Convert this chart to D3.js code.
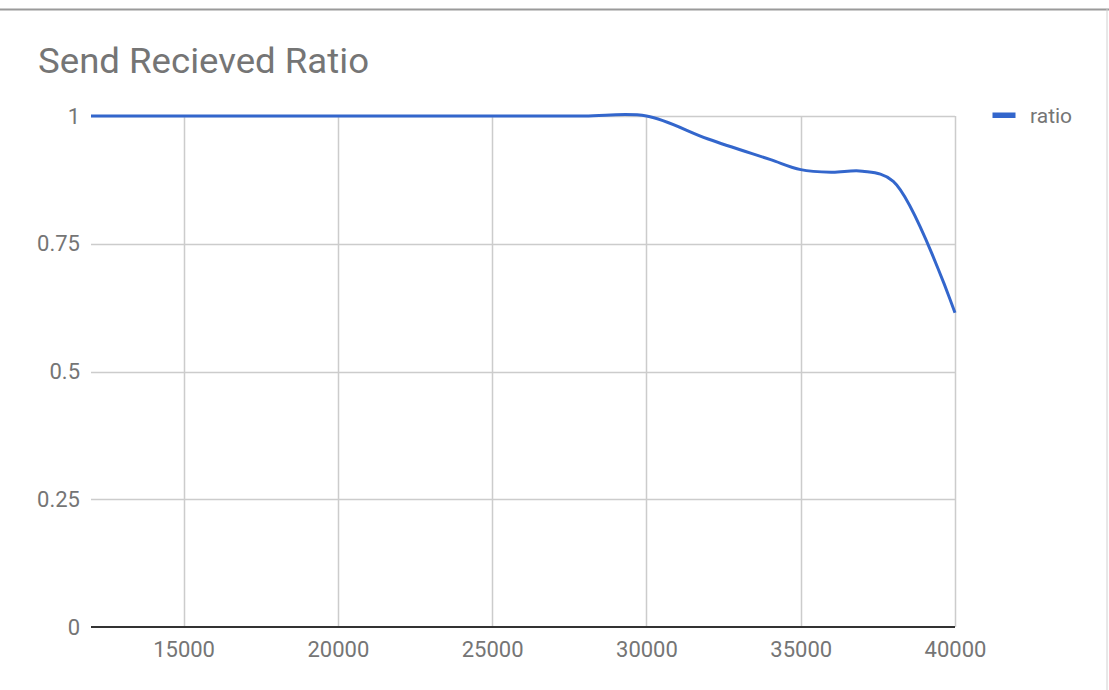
<!DOCTYPE html>
<html><head><meta charset="utf-8">
<script src="https://cdn.jsdelivr.net/npm/d3@7"></script>
<style>body{margin:0;background:#fff;}svg{display:block;font-family:Roboto,"Noto Sans",sans-serif;}</style>
</head><body>
<svg id="c" width="1109" height="690"></svg>
<script>
const title = "Send Recieved Ratio";
const seriesName = "ratio";
const xValues = [12000,14000,16000,18000,20000,22000,24000,26000,28000,30000,32000,34000,35000,36000,37000,38000,40000];
const ratio =   [1,1,1,1,1,1,1,1,1,1,0.955,0.915,0.895,0.89,0.892,0.872,0.615];
const xTicks = [15000,20000,25000,30000,35000,40000];
const yTicks = [0,0.25,0.5,0.75,1];

(function(){
const svg = d3.select("#c");
const mL = 91, mR = 955, mT = 116, mB = 627;
const x = d3.scaleLinear().domain([12000,40000]).range([mL,mR]);
const y = d3.scaleLinear().domain([0,1]).range([mB,mT]);
const font = "Roboto,'Noto Sans',sans-serif";

// frame lines
svg.append("line").attr("x1",0).attr("x2",1109).attr("y1",9.5).attr("y2",9.5).attr("stroke","#9a9a9a").attr("stroke-width",2);
svg.append("line").attr("x1",1107).attr("x2",1107).attr("y1",9).attr("y2",690).attr("stroke","#d0d0d0").attr("stroke-width",1);

svg.append("text").attr("x",38).attr("y",73).attr("font-size",35)
  .attr("textLength",331).attr("lengthAdjust","spacingAndGlyphs")
  .attr("fill","#757575").text(title);

// grid
svg.append("g").selectAll("line").data(yTicks.filter(d=>d>0)).join("line")
  .attr("x1",mL).attr("x2",mR).attr("y1",d=>Math.round(y(d))+0.5).attr("y2",d=>Math.round(y(d))+0.5)
  .attr("stroke","#cccccc").attr("stroke-width",1.5);
svg.append("g").selectAll("line").data(xTicks).join("line")
  .attr("x1",d=>Math.round(x(d))+0.5).attr("x2",d=>Math.round(x(d))+0.5).attr("y1",mT).attr("y2",mB)
  .attr("stroke","#cccccc").attr("stroke-width",1.5);

// axes labels
const yAxis = d3.axisLeft(y).tickValues(yTicks).tickSize(0).tickPadding(11).tickFormat(d=>String(d));
const gy = svg.append("g").attr("transform",`translate(${mL},0)`).call(yAxis);
gy.select(".domain").remove();
gy.selectAll("text").attr("font-size",22).attr("fill","#757575").attr("font-family",font);

const xAxis = d3.axisBottom(x).tickValues(xTicks).tickSize(0).tickPadding(14).tickFormat(d=>String(d));
const gx = svg.append("g").attr("transform",`translate(0,${mB})`).call(xAxis);
gx.select(".domain").remove();
gx.selectAll("text").attr("font-size",22).attr("fill","#757575").attr("font-family",font);

// baseline
svg.append("line").attr("x1",mL).attr("x2",mR).attr("y1",mB).attr("y2",mB).attr("stroke","#333333").attr("stroke-width",2);

// series
const line = d3.line().x((d,i)=>x(xValues[i])).y(d=>y(d)).curve(d3.curveCatmullRom.alpha(0.5));
svg.append("path").datum(ratio).attr("d",line).attr("fill","none").attr("stroke","#3366cc").attr("stroke-width",3).attr("stroke-linejoin","round");

// legend
svg.append("rect").attr("x",992.5).attr("y",112.5).attr("width",23).attr("height",5.5).attr("fill","#3366cc");
svg.append("text").attr("x",1030).attr("y",122.5).attr("font-size",21).attr("fill","#757575").text(seriesName);
})();
</script>
</body></html>
